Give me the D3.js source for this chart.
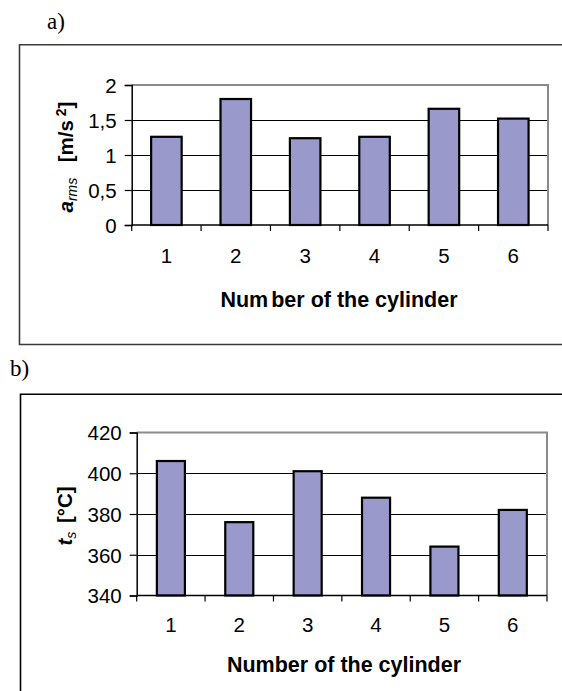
<!DOCTYPE html>
<html>
<head>
<meta charset="utf-8">
<script src="https://cdn.jsdelivr.net/npm/d3@7"></script>
<style>
  html, body { margin: 0; padding: 0; background: #fff; }
  svg { display: block; }
  text { font-family: "Liberation Sans", Arial, sans-serif; fill: #000; }
</style>
</head>
<body>
<svg id="chart" width="562" height="691"></svg>
<script>
// ---------------- data ----------------
const categories = ["1", "2", "3", "4", "5", "6"];
const armsValues = [1.26, 1.80, 1.24, 1.26, 1.66, 1.52];
const armsTicks = [0, 0.5, 1, 1.5, 2];
const tempValues = [406, 376, 401, 388, 364, 382];
const tempTicks = [340, 360, 380, 400, 420];
const xTitle = "Number of the cylinder";

const svg = d3.select("#chart");
const barFill = "#9999cc";
const fmtComma = d => String(d).replace(".", ",");

// panel frames
svg.append("path").attr("d", "M580,44.8 H19.5 V344.5 H580")
  .attr("fill", "none").attr("stroke", "#3a3a3a").attr("stroke-width", 1.6);
svg.append("path").attr("d", "M580,394.3 H20.5 V700")
  .attr("fill", "none").attr("stroke", "#000").attr("stroke-width", 1.6);

// panel letters
svg.append("text").attr("x", 47).attr("y", 29)
  .style("font-family", "'Liberation Serif', 'Times New Roman', serif")
  .style("font-size", "23px").text("a)");
svg.append("text").attr("x", 10).attr("y", 376)
  .style("font-family", "'Liberation Serif', 'Times New Roman', serif")
  .style("font-size", "23px").text("b)");

function drawPanel(cfg) {
  const g = svg.append("g");
  const x = d3.scaleBand().domain(categories)
    .range([cfg.left, cfg.right]).paddingInner(cfg.pad).paddingOuter(cfg.pad / 2);
  const y = d3.scaleLinear().domain(cfg.domain).range([cfg.bottom, cfg.top]);
  const step = x.step();
  const x0 = x.range()[0];

  // gridlines (interior ticks)
  g.selectAll(".grid").data(cfg.ticks.slice(1, -1)).join("line")
    .attr("x1", cfg.left).attr("x2", cfg.right)
    .attr("y1", d => Math.round(y(d)) + 0.5).attr("y2", d => Math.round(y(d)) + 0.5)
    .attr("stroke", "#000").attr("stroke-width", 1);

  // gray top/right border
  g.append("path")
    .attr("d", `M${cfg.left},${y(cfg.domain[1])} H${cfg.right} V${cfg.bottom}`)
    .attr("fill", "none").attr("stroke", "#8a8a8a").attr("stroke-width", 2);

  // bars
  g.selectAll(".bar").data(cfg.values).join("rect")
    .attr("x", (d, i) => x(categories[i]))
    .attr("width", x.bandwidth())
    .attr("y", d => y(d))
    .attr("height", d => y(cfg.domain[0]) - y(d))
    .attr("fill", barFill).attr("stroke", "#000").attr("stroke-width", 2.2);

  // left axis
  const yAxis = d3.axisLeft(y).tickValues(cfg.ticks).tickSize(7).tickPadding(8)
    .tickFormat(cfg.fmt);
  const ya = g.append("g").attr("transform", `translate(${cfg.left},0)`).call(yAxis);
  ya.select(".domain").attr("stroke", "#000").attr("stroke-width", 1.5);
  ya.selectAll(".tick line").attr("stroke", "#000").attr("stroke-width", 1.2);
  ya.selectAll(".tick text").style("font-size", "20.5px").attr("dy", "0.36em")
    .attr("font-family", null);

  // bottom axis (ticks at category boundaries)
  const bounds = d3.range(categories.length + 1).map(i => x0 + i * step);
  g.append("line").attr("x1", cfg.left).attr("x2", cfg.right)
    .attr("y1", cfg.bottom).attr("y2", cfg.bottom)
    .attr("stroke", "#000").attr("stroke-width", 1.5);
  g.selectAll(".xt").data(bounds).join("line")
    .attr("x1", d => d).attr("x2", d => d)
    .attr("y1", cfg.bottom).attr("y2", cfg.bottom + 6)
    .attr("stroke", "#000").attr("stroke-width", 1.2);
  g.selectAll(".xl").data(categories).join("text")
    .attr("x", d => x(d) + x.bandwidth() / 2)
    .attr("y", cfg.bottom + cfg.labelOff)
    .attr("text-anchor", "middle").style("font-size", "20.5px").text(d => d);

  // x title
  const xt = g.append("text")
    .attr("x", cfg.titleX)
    .attr("y", cfg.titleY)
    .attr("text-anchor", "middle")
    .style("font-size", "21.5px").style("font-weight", "bold");
  if (cfg.gap) {
    xt.append("tspan").text("Num");
    xt.append("tspan").attr("dx", 3).text(xTitle.slice(3));
  } else {
    xt.text(xTitle);
  }
  return g;
}

drawPanel({
  left: 131.7, right: 548, top: 85, bottom: 225,
  pad: 0.56, domain: [0, 2], values: armsValues, ticks: armsTicks,
  fmt: fmtComma, labelOff: 38, titleX: 339, titleY: 306.5, gap: true
});
drawPanel({
  left: 136.7, right: 547, top: 432.5, bottom: 595.5,
  pad: 0.59, domain: [340, 420], values: tempValues, ticks: tempTicks,
  fmt: d => d, labelOff: 36.5, titleX: 344, titleY: 671.5, gap: false
});

// y titles
const ya = svg.append("text")
  .attr("transform", "translate(73,157) rotate(-90)")
  .attr("text-anchor", "middle")
  .style("font-size", "20.5px").style("font-weight", "bold");
ya.append("tspan").style("font-style", "italic").text("a");
ya.append("tspan").style("font-style", "italic").style("font-weight", "normal")
  .style("font-size", "14px").attr("dy", 4).text("rms");
ya.append("tspan").attr("dy", -4).attr("dx", 4).text("\u00a0 [m/s");
ya.append("tspan").style("font-size", "14px").attr("dy", -7).attr("dx", 4).text("2");
ya.append("tspan").attr("dy", 7).text("]");

const yb = svg.append("text")
  .attr("transform", "translate(72,516) rotate(-90)")
  .attr("text-anchor", "middle")
  .style("font-size", "20.5px").style("font-weight", "bold");
yb.append("tspan").style("font-style", "italic").text("t");
yb.append("tspan").style("font-size", "14px").style("font-weight", "normal")
  .style("font-style", "italic").attr("dy", 4).text("s");
yb.append("tspan").attr("dy", -4).attr("dx", 3).text(" [°C]");
</script>
</body>
</html>
